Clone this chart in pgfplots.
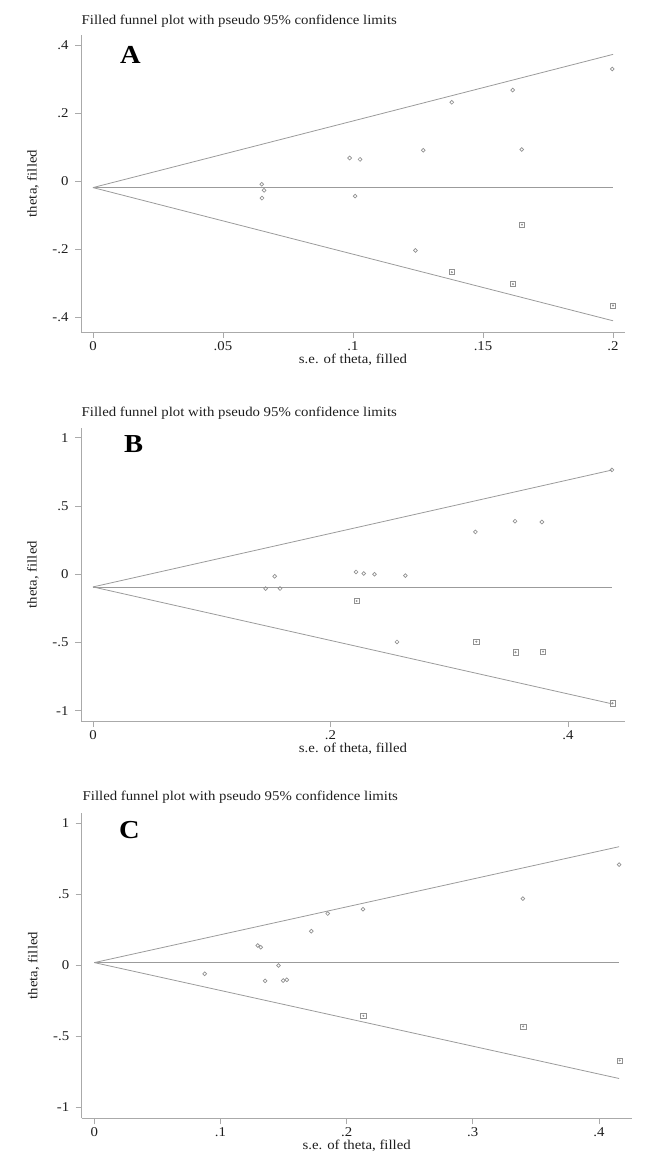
\documentclass[border=0pt]{standalone}
\usepackage{fontspec}
\setmainfont{Liberation Serif}[FakeStretch=1.1]
\usepackage{pgfplots}
\pgfplotsset{compat=1.18}
\definecolor{axgray}{RGB}{170,170,170}
\definecolor{lngray}{RGB}{155,155,155}
\definecolor{mkgray}{RGB}{145,145,145}
\definecolor{txt}{RGB}{30,30,30}
\pgfplotsset{
 funnel/.style={
  scale only axis, axis lines*=left,
  axis line style={axgray, line width=0.8bp},
  tick align=outside, major tick length=6bp,
  tick style={axgray, line width=0.8bp},
  ticklabel style={font=\fontsize{13.5}{15}\selectfont, text=txt},
  xticklabel style={anchor=base, yshift=-12bp, inner sep=1bp},
  yticklabel style={anchor=east, xshift=-3bp},
  every axis x label/.style={at={(axis description cs:0.5,0)}, anchor=base, yshift=-31bp, inner sep=1bp},
  every axis y label/.style={at={(axis description cs:0,0.5)}, xshift=-48bp, rotate=90, anchor=center},
  label style={font=\fontsize{13.5}{15}\selectfont, text=txt},
  xlabel={s.e. of theta, filled}, ylabel={theta, filled},
  clip=false,
 },
 fl/.style={lngray, line width=0.8bp, mark=none},
 circ/.style={only marks, mark=o, mark size=1.9bp, mark options={mkgray, line width=0.7bp}},
 sq/.style={only marks, mark=square, mark size=2.6bp, mark options={mkgray, line width=0.6bp}},
 inn/.style={only marks, mark=*, mark size=0.8bp, mark options={mkgray}},
}
\begin{document}
\begin{tikzpicture}
\useasboundingbox (0,0) rectangle (653bp,-1163bp);
\tikzset{ttl/.style={anchor=base west, font=\fontsize{13.5}{15}\selectfont, text=txt, inner sep=0pt},
 lett/.style={anchor=base west, font=\fontsize{26}{28}\selectfont\bfseries, text=black, inner sep=0pt}}
\node[ttl] at (81.5bp,-24bp) {Filled funnel plot with pseudo 95\% confidence limits};
\node[lett] at (120bp,-63.3bp) {A};
\node[ttl] at (81.5bp,-416.7bp) {Filled funnel plot with pseudo 95\% confidence limits};
\node[lett] at (124bp,-452.7bp) {B};
\node[ttl] at (82.5bp,-800.7bp) {Filled funnel plot with pseudo 95\% confidence limits};
\node[lett] at (119bp,-838bp) {C};

% Panel A
\begin{axis}[funnel, at={(81bp,-332bp)}, anchor=south west, width=544bp, height=297bp,
 xmin=-0.0046, xmax=0.2046, ymin=-0.444, ymax=0.43,
 xtick={0,0.05,0.1,0.15,0.2}, xticklabels={0,.05,.1,.15,.2},
 ytick={-0.4,-0.2,0,0.2,0.4}, yticklabels={-.4,-.2,0,.2,.4}]
\addplot[fl] coordinates {(0,-0.019) (0.2,-0.019)};
\addplot[fl] coordinates {(0,-0.019) (0.2,0.373)};
\addplot[fl] coordinates {(0,-0.019) (0.2,-0.411)};
\addplot[circ] coordinates {(0.0649,-0.009) (0.0658,-0.027) (0.065,-0.05) (0.0987,0.068) (0.1027,0.064) (0.1008,-0.044) (0.124,-0.204) (0.127,0.091) (0.138,0.232) (0.1614,0.268) (0.1649,0.093) (0.1997,0.330)};
\addplot[sq] coordinates {(0.165,-0.128) (0.138,-0.268) (0.1615,-0.303) (0.2,-0.366)};
\addplot[inn] coordinates {(0.165,-0.128) (0.138,-0.268) (0.1615,-0.303) (0.2,-0.366)};
\end{axis}

% Panel B
\begin{axis}[funnel, at={(81bp,-721bp)}, anchor=south west, width=544bp, height=292.7bp,
 xmin=-0.0101, xmax=0.448, ymin=-1.076, ymax=1.07,
 xtick={0,0.2,0.4}, xticklabels={0,.2,.4},
 ytick={-1,-0.5,0,0.5,1}, yticklabels={-1,-.5,0,.5,1}]
\addplot[fl] coordinates {(0,-0.093) (0.437,-0.093)};
\addplot[fl] coordinates {(0,-0.093) (0.437,0.764)};
\addplot[fl] coordinates {(0,-0.093) (0.437,-0.950)};
\addplot[circ] coordinates {(0.1454,-0.105) (0.153,-0.015) (0.1575,-0.105) (0.2215,0.017) (0.228,0.005) (0.237,0.0) (0.263,-0.01) (0.256,-0.496) (0.322,0.31) (0.3554,0.389) (0.378,0.383) (0.437,0.765)};
\addplot[sq] coordinates {(0.222,-0.196) (0.3228,-0.494) (0.3558,-0.572) (0.3790,-0.567) (0.4375,-0.946)};
\addplot[inn] coordinates {(0.222,-0.196) (0.3228,-0.494) (0.3558,-0.572) (0.3790,-0.567) (0.4375,-0.946)};
\end{axis}

% Panel C
\begin{axis}[funnel, at={(81.7bp,-1118.3bp)}, anchor=south west, width=550bp, height=305.6bp,
 xmin=-0.01, xmax=0.426, ymin=-1.077, ymax=1.072,
 xtick={0,0.1,0.2,0.3,0.4}, xticklabels={0,.1,.2,.3,.4},
 ytick={-1,-0.5,0,0.5,1}, yticklabels={-1,-.5,0,.5,1}]
\addplot[fl] coordinates {(0,0.018) (0.416,0.018)};
\addplot[fl] coordinates {(0,0.018) (0.416,0.833)};
\addplot[fl] coordinates {(0,0.018) (0.416,-0.797)};
\addplot[circ] coordinates {(0.0875,-0.061) (0.1296,0.138) (0.132,0.126) (0.1354,-0.110) (0.146,-0.003) (0.1497,-0.108) (0.1526,-0.103) (0.172,0.239) (0.185,0.363) (0.213,0.393) (0.3397,0.468) (0.416,0.707)};
\addplot[sq] coordinates {(0.2133,-0.356) (0.34,-0.431) (0.4165,-0.670)};
\addplot[inn] coordinates {(0.2133,-0.356) (0.34,-0.431) (0.4165,-0.670)};
\end{axis}
\end{tikzpicture}
\end{document}
